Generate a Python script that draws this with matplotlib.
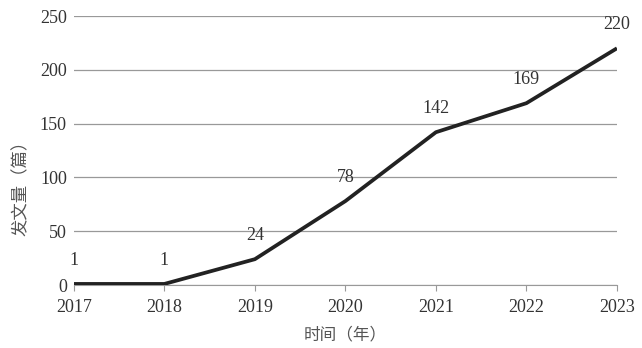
import matplotlib.pyplot as plt

years = [2017, 2018, 2019, 2020, 2021, 2022, 2023]
counts = [1, 1, 24, 78, 142, 169, 220]

plt.rcParams['font.family'] = ['Liberation Serif', 'Noto Sans CJK SC']

fig = plt.figure(figsize=(6.42, 3.48), dpi=100)
ax = fig.add_axes([0.115, 0.181, 0.846, 0.773])

ax.plot(years, counts, color='#222222', linewidth=2.7, solid_capstyle='butt', zorder=3)
for x, y in zip(years, counts):
    ax.annotate(str(y), (x, y), xytext=(0, 17), textcoords='offset points',
                ha='center', va='center', fontsize=13, color='#333333')

ax.set_xlim(2017, 2023)
ax.set_ylim(0, 250)
ax.set_yticks(range(0, 251, 50))
ax.set_xticks(years)
ax.yaxis.grid(True, color='#999999', linewidth=0.9)
ax.set_axisbelow(True)
for s in ['top', 'right', 'left']:
    ax.spines[s].set_visible(False)
ax.spines['bottom'].set_color('#999999')
ax.tick_params(axis='y', length=0, pad=5, labelsize=13, labelcolor='#333333')
ax.tick_params(axis='x', length=4, color='#999999', direction='out', pad=6,
               labelsize=13, labelcolor='#333333')

ax.set_xlabel('时间（年）', fontsize=12, color='#555555')
ax.set_ylabel('发文量（篇）', fontsize=12.5, color='#555555')
ax.xaxis.set_label_coords(0.5, -0.186)
ax.yaxis.set_label_coords(-0.096, 0.375)
ax.xaxis.label.set_va('center')
ax.yaxis.label.set_va('center')

fig.savefig('out.png', dpi=100)
